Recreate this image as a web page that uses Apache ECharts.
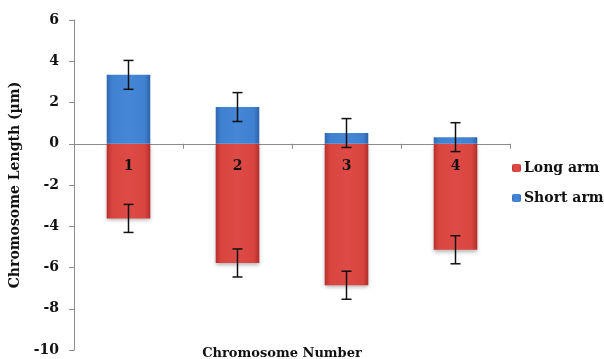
<!DOCTYPE html>
<html><head><meta charset="utf-8">
<script src="https://cdn.jsdelivr.net/npm/echarts@6/dist/echarts.min.js"></script>
<style>html,body{margin:0;padding:0;background:#fff}#c{width:604px;height:359px}</style>
</head><body><div id="c"></div>
<script>
const categories = ['1', '2', '3', '4'];
const longArm = [-3.62, -5.78, -6.86, -5.14];
const shortArm = [3.34, 1.78, 0.52, 0.32];
const longErr = [0.68, 0.68, 0.68, 0.68];
const shortErr = [0.70, 0.70, 0.70, 0.70];
const yTicks = [-10, -8, -6, -4, -2, 0, 2, 4, 6];

const FONT = '"DejaVu Serif", "Liberation Serif", serif';
const redFill = new echarts.graphic.LinearGradient(0, 0, 1, 0, [
  {offset: 0, color: '#b8302c'}, {offset: 0.12, color: '#d9443f'},
  {offset: 0.5, color: '#de4a45'}, {offset: 0.88, color: '#d9443f'}, {offset: 1, color: '#b02e2a'}]);
const blueFill = new echarts.graphic.LinearGradient(0, 0, 1, 0, [
  {offset: 0, color: '#2f68b0'}, {offset: 0.12, color: '#3f80d0'},
  {offset: 0.5, color: '#4586d6'}, {offset: 0.88, color: '#3f80d0'}, {offset: 1, color: '#2c62a8'}]);

function errSeries(name, vals, errs) {
  return {
    type: 'custom', name: name + ' err', silent: true, z: 10,
    data: vals.map((v, i) => [i, v, errs[i]]),
    renderItem: function (params, api) {
      const i = api.value(0), v = api.value(1), e = api.value(2);
      const top = api.coord([i, v + e]);
      const bot = api.coord([i, v - e]);
      const hw = 5;
      const st = {stroke: '#111', lineWidth: 1.5};
      return {type: 'group', children: [
        {type: 'line', shape: {x1: top[0], y1: top[1], x2: bot[0], y2: bot[1]}, style: st},
        {type: 'line', shape: {x1: top[0] - hw, y1: top[1], x2: top[0] + hw, y2: top[1]}, style: st},
        {type: 'line', shape: {x1: bot[0] - hw, y1: bot[1], x2: bot[0] + hw, y2: bot[1]}, style: st}
      ]};
    }
  };
}

const chart = echarts.init(document.getElementById('c'), null, {renderer: 'canvas'});
chart.setOption({
  animation: false,
  backgroundColor: '#fff',
  grid: {left: 73, right: 94, top: 20, bottom: 9, containLabel: false},
  title: {text: 'Chromosome Number', left: 277, textAlign: 'center', top: 342,
    textStyle: {fontFamily: FONT, fontWeight: 'bold', fontSize: 13, color: '#111'}},
  legend: {
    orient: 'vertical', left: 507, top: 156, itemGap: 16, padding: 5,
    itemWidth: 9, itemHeight: 8,
    data: ['Long arm', 'Short arm'],
    textStyle: {fontFamily: FONT, fontWeight: 'bold', fontSize: 14, color: '#111', padding: [0, 0, 0, -2]}
  },
  xAxis: {
    type: 'category', data: categories, boundaryGap: true,
    axisLine: {onZero: true, lineStyle: {color: '#8c8c8c', width: 1}},
    axisTick: {show: true, length: 5, lineStyle: {color: '#8c8c8c'}},
    axisLabel: {show: false}
  },
  yAxis: {
    type: 'value', min: -10, max: 6, interval: 2,
    name: 'Chromosome Length (µm)', nameLocation: 'middle', nameGap: 52,
    nameTextStyle: {fontFamily: FONT, fontWeight: 'bold', fontSize: 14, color: '#111'},
    axisLine: {show: true, lineStyle: {color: '#8c8c8c'}},
    axisTick: {show: true, length: 5, lineStyle: {color: '#8c8c8c'}},
    splitLine: {show: false},
    axisLabel: {fontFamily: FONT, fontWeight: 'bold', fontSize: 14, color: '#111', margin: 15,
      formatter: v => yTicks.includes(v) ? String(v) : ''}
  },
  series: [
    {name: 'Long arm', type: 'bar', data: longArm, barWidth: '40%', barGap: '-100%',
      itemStyle: {color: redFill, shadowBlur: 4, shadowColor: 'rgba(0,0,0,0.3)', shadowOffsetY: 2},
      label: {show: true, position: 'insideTop', distance: 16, formatter: p => categories[p.dataIndex],
        fontFamily: FONT, fontWeight: 'bold', fontSize: 14, color: '#111'}},
    {name: 'Short arm', type: 'bar', data: shortArm, barWidth: '40%', barGap: '-100%',
      itemStyle: {color: blueFill}},
    errSeries('Long arm', longArm, longErr),
    errSeries('Short arm', shortArm, shortErr)
  ]
});
</script></body></html>
